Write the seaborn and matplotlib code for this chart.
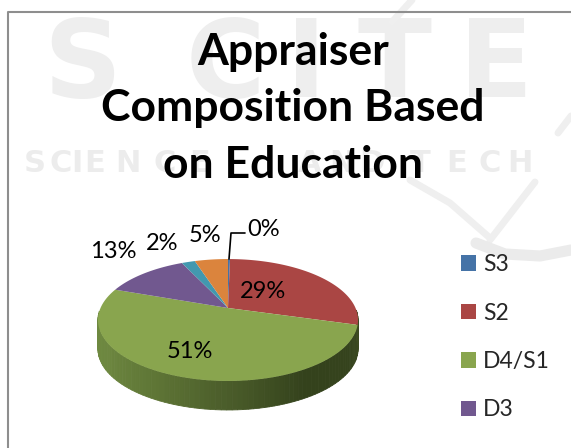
import numpy as np
import matplotlib
matplotlib.use('Agg')
import matplotlib.pyplot as plt
from matplotlib.patches import Patch
import seaborn as sns

# values (share of appraisers, %)
values = [0.3, 29.1, 51.0, 12.6, 2.0, 5.0]
pct_labels = ['0%', '29%', '51%', '13%', '2%', '5%']
legend_labels = ['S3', 'S2', 'D4/S1', 'D3']
colors = ['#4573a7', '#aa4644', '#89a54e', '#71588f', '#4298af', '#db843d']
wall_colors = ['#6f8a40', '#6d8740', '#5f7636', '#4a5c2a', '#34421c', '#35431d', '#3d4b22']

# faint publisher watermark
mark_big = ['S', 'C', 'I', 'T', 'E']
mark_big_x = [82, 225, 306, 395, 496]
mark_small = list('SCIENCE') + list('AND') + list('TECH')
mark_small_x = [35, 61, 77, 95, 128, 165, 200, 310, 342, 372, 420, 457, 490, 520]

sns.set_theme(style='white')
plt.rcParams['font.family'] = ['Lato', 'DejaVu Sans']

fig = plt.figure(figsize=(5.71, 4.48), dpi=100)
ax = fig.add_axes([0, 0, 1, 1])
ax.set_xlim(0, 571)
ax.set_ylim(448, 0)
ax.axis('off')

for ch, x in zip(mark_big, mark_big_x):
    ax.text(x, 97, ch, fontsize=78, fontweight='bold', family='DejaVu Sans', color='#eeeeee',
            ha='center', va='baseline', zorder=0)
for ch, x in zip(mark_small, mark_small_x):
    ax.text(x, 172, ch, fontsize=22, fontweight='bold', family='DejaVu Sans', color='#ececec',
            ha='center', va='baseline', zorder=0)

# swoosh of the watermark
ax.plot([392, 412], [22, 0], color='#efefef', lw=5, zorder=0)
ax.plot([558, 571], [133, 116], color='#efefef', lw=5, zorder=0)
ax.plot([410, 450, 490], [180, 203, 238], color='#efefef', lw=5, zorder=0)
ax.plot([535, 490], [182, 240], color='#efefef', lw=5, zorder=0)
ax.plot([476, 505, 540, 571], [243, 254, 256, 250], color='#ebebeb', lw=8, zorder=0)

# chart frame, the right and bottom sides are cut off
ax.plot([7.5, 7.5, 571], [448, 12.5, 12.5], color='#8e8e8e', lw=1.5, zorder=1)

# pie in perspective
cx, cy = 228, 308
rx, ry, p = 127.5, 58.6, 0.197
depth = 29


def project(theta):
    x, y = np.cos(theta), np.sin(theta)
    k = 1 / (1 + p * y)
    return cx + rx * x * k, cy - ry * y * k


# side wall, front half of the rim
angles = np.radians(np.linspace(183, 358, 90))
xs, ys = project(angles)
shades = sns.blend_palette(wall_colors, len(angles) - 1)
for i in range(len(angles) - 1):
    ax.fill([xs[i], xs[i + 1], xs[i + 1], xs[i]],
            [ys[i], ys[i + 1], ys[i + 1] + depth, ys[i] + depth],
            color=shades[i], lw=0.6, zorder=2)

# top face, clockwise from twelve o'clock
edges = 90 - np.cumsum([0] + values) / sum(values) * 360
for start, end, col in zip(edges[:-1], edges[1:], colors):
    t = np.radians(np.linspace(start, end, 80))
    px, py = project(t)
    ax.fill(np.r_[cx, px], np.r_[cy, py], color=col, lw=0, zorder=3)

label_x = [264, 263, 190, 113, 162, 205]
label_y = [229, 292, 351, 252, 244, 236]
for lab, lx, ly in zip(pct_labels, label_x, label_y):
    ax.text(lx, ly, lab, fontsize=17, color='black', ha='center', va='center', zorder=5)

# leader line of the 0% label
ax.plot([229, 231, 245], [259, 233, 233], color='black', lw=1.2, zorder=4)

ax.text(293, 108, 'Appraiser\nComposition Based\non Education', fontsize=32, fontweight='bold',
        color='black', ha='center', va='center', linespacing=1.5, zorder=5)

handles = [Patch(facecolor=c, edgecolor='none') for c in colors[:4]]
ax.legend(handles, legend_labels, loc='upper left', bbox_to_anchor=(461 / 571, 1 - 254 / 448),
          fontsize=16.5, frameon=False, labelspacing=1.2, handlelength=0.65, handleheight=0.65,
          handletextpad=0.3, borderpad=0, borderaxespad=0)

fig.savefig('out.png', dpi=100)
